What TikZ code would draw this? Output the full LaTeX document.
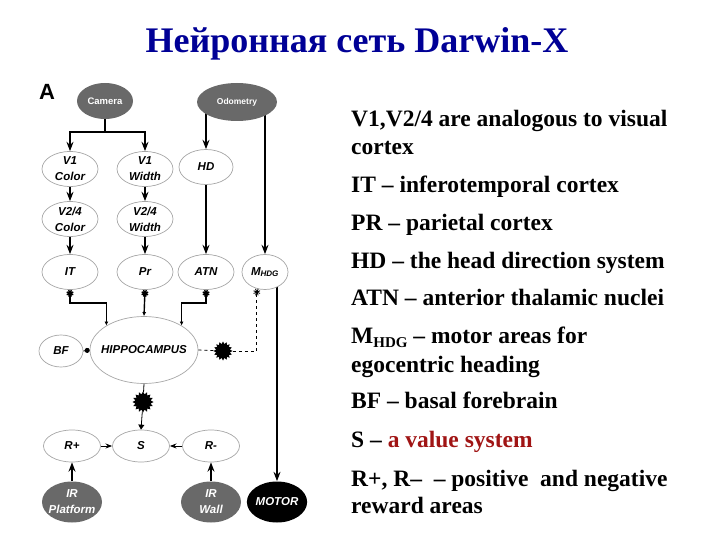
\documentclass[tikz,border=0pt]{standalone}
\usepackage{fontspec}
\setmainfont{Liberation Serif}
\setsansfont{Liberation Sans}
\usetikzlibrary{arrows.meta,shapes.geometric,backgrounds}
\definecolor{titleblue}{RGB}{0,0,150}
\definecolor{valred}{RGB}{160,20,20}
\definecolor{cellgray}{RGB}{105,105,105}

\begin{document}
\begin{tikzpicture}[x=1pt,y=-1pt,>=Stealth,
  cell/.style={ellipse,draw=gray!70,line width=0.7pt,fill=white,inner sep=0pt,
    minimum width=56pt,minimum height=35pt,align=center,
    font=\sffamily\bfseries\itshape\fontsize{11.5}{16}\selectfont},
  darkcell/.style={cell,draw=none,fill=cellgray,text=white},
  motorcell/.style={cell,draw=none,fill=black,text=white},
  blob/.style={star,star points=16,star point ratio=1.35,fill=black,inner sep=0pt,minimum size=19pt},
  wire/.style={line width=1.4pt},
  thinwire/.style={line width=0.8pt},
  note/.style={anchor=base west,inner sep=0pt,font=\bfseries\fontsize{23.5}{23.5}\selectfont}]
  \useasboundingbox (0,0) rectangle (720,540);

  \node[font=\bfseries\fontsize{36}{36}\selectfont,text=titleblue,anchor=base] (title) at (357,53) {Нейронная сеть Darwin-X};
  \node[font=\sffamily\bfseries\fontsize{22}{22}\selectfont] (panel) at (47,92) {A};

  % sensory inputs
  \node[darkcell,minimum width=56pt,minimum height=36pt,font=\sffamily\bfseries\fontsize{9.5}{10}\selectfont] (cam) at (105,101) {Camera};
  \node[darkcell,minimum width=80pt,minimum height=38pt,font=\sffamily\bfseries\fontsize{8.5}{10}\selectfont] (odo) at (237,102) {Odometry};

  \node[cell] (v1c) at (70,169) {V1\\Color};
  \node[cell] (v1w) at (145,169) {V1\\Width};
  \node[cell,minimum width=54pt] (hd) at (206,167) {HD};
  \node[cell] (v2c) at (70,219) {V2/4\\Color};
  \node[cell] (v2w) at (145,219) {V2/4\\Width};
  \node[cell] (it) at (70,272) {IT};
  \node[cell] (pr) at (145,272) {Pr};
  \node[cell] (atn) at (206,272) {ATN};
  \node[cell,minimum width=46pt] (mhdg) at (265,272) {M\textsubscript{HDG}};

  \node[cell,inner xsep=-8pt,minimum width=108pt,minimum height=67pt] (hip) at (144,350) {HIPPOCAMPUS};
  \node[cell,minimum width=44pt,minimum height=32pt] (bf) at (61,351) {BF};
  \node[blob] (blobr) at (223,351) {};
  \node[blob,minimum size=21pt] (blobs) at (143,402) {};

  \node[cell,minimum width=57pt,minimum height=32pt] (rp) at (72,446) {R+};
  \node[cell,minimum width=57pt,minimum height=32pt] (s) at (141,446) {S};
  \node[cell,minimum width=57pt,minimum height=32pt] (rm) at (211,446) {R-};
  \node[darkcell,inner xsep=-7pt,minimum width=60pt,minimum height=41pt] (irp) at (72,502) {IR\\Platform};
  \node[darkcell,minimum width=60pt,minimum height=41pt] (irw) at (211,502) {IR\\Wall};
  \node[motorcell,minimum width=60pt,minimum height=41pt] (motor) at (277,502) {MOTOR};

  % lines hidden under the ellipses
  \begin{scope}[on background layer]
    \draw[wire,->] (odo.center -| hd.north) -- (hd.north);
    \draw[wire,->] (odo.center -| mhdg.north) -- (mhdg.north);
    \draw[wire,->] (mhdg.center -| motor.north) -- (motor.north);
  \end{scope}

  \coordinate (camj) at (105,132);
  \draw[wire] (cam.south) -- (camj);
  \draw[wire,->] (camj) -| (v1c.north);
  \draw[wire,->] (camj) -| (v1w.north);
  \draw[wire,->] (v1c) -- (v2c);
  \draw[wire,->] (v2c) -- (it);
  \draw[wire,->] (v1w) -- (v2w);
  \draw[wire,->] (v2w) -- (pr);
  \draw[wire,->] (hd) -- (atn);

  % two-way links to the hippocampus
  \draw[wire,{Rays[n=8,length=7pt]}-{Latex[length=4pt,width=4pt]}] (it.south) -- ++(0,13) -| (hip.147);
  \draw[wire,{Rays[n=8,length=7pt]}-{Latex[length=4pt,width=4pt]}] (pr.south) -- (hip.north);
  \draw[wire,{Rays[n=8,length=7pt]}-{Latex[length=4pt,width=4pt]}] (atn.south) -- ++(0,13) -| (hip.33);
  \draw[thinwire,-{Circle[length=5pt]}] (bf.east) -- (hip.west);
  \draw[thinwire,dashed] (hip.east) -- (blobr);
  \draw[thinwire,dashed,-{Rays[n=8,length=7pt]}] (blobr) -| (mhdg.244);

  % value system
  \draw[thinwire] (hip.south) -- (blobs);
  \draw[thinwire,-{Triangle[length=5pt,width=6pt]}] (blobs) -- (s.north);
  \draw[thinwire,->] (rp) -- (s);
  \draw[thinwire,->] (rm) -- (s);
  \draw[wire,->] (irp) -- (rp);
  \draw[wire,->] (irw) -- (rm);

  % legend
  \node[note] (n1) at (351,127) {V1,V2/4 are analogous to visual};
  \node[note] (n1b) at (351,155) {cortex};
  \node[note] (n2) at (351,193) {IT – inferotemporal cortex};
  \node[note] (n3) at (351,230) {PR – parietal cortex};
  \node[note] (n4) at (351,268) {HD – the head direction system};
  \node[note] (n5) at (351,305) {ATN – anterior thalamic nuclei};
  \node[note] (n6) at (351,343) {M\raisebox{-4pt}{\fontsize{15}{15}\selectfont HDG} – motor areas for};
  \node[note] (n6b) at (351,372) {egocentric heading};
  \node[note] (n7) at (351,408) {BF – basal forebrain};
  \node[note] (n8) at (351,447) {S – \textcolor{valred}{a value system}};
  \node[note] (n9) at (351,486) {R+, R–\ \ – positive\ \ and negative};
  \node[note] (n9b) at (351,513) {reward areas};
\end{tikzpicture}
\end{document}
